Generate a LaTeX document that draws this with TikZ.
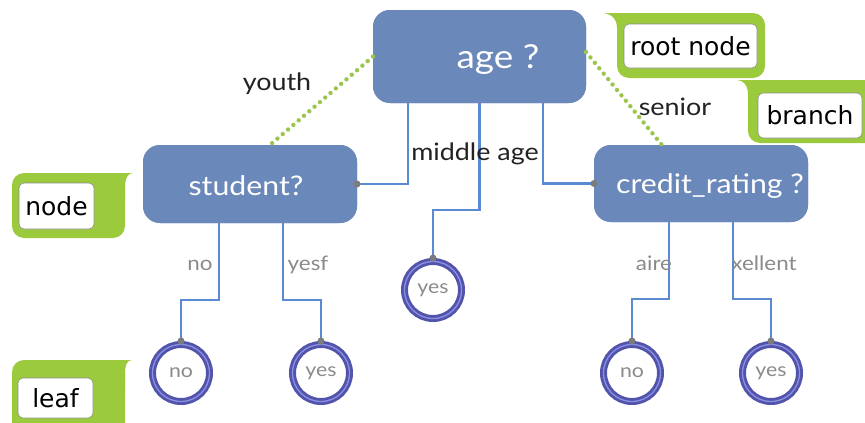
\documentclass[tikz,border=0pt]{standalone}
\usepackage{fontspec}
\setmainfont{Lato}[FakeStretch=1.12]
\newfontfamily\callfont{DejaVu Sans}
\usetikzlibrary{calc}

\definecolor{boxblue}{HTML}{6B88BA}
\definecolor{linkblue}{HTML}{5A8AD2}
\definecolor{ringdark}{HTML}{5254AC}
\definecolor{ringlight}{HTML}{8C90E2}
\definecolor{calloutgreen}{HTML}{9BCB3C}
\definecolor{vinegreen}{HTML}{9AC64C}
\definecolor{labelgrey}{HTML}{8A8A8A}
\definecolor{dotgrey}{HTML}{7C7C7C}
\definecolor{inkblack}{HTML}{222222}

\begin{document}
\begin{tikzpicture}[x=1pt,y=-1pt,
  decision/.style={rounded corners=17pt, fill=boxblue, inner sep=0pt, outer sep=0pt},
  leafnode/.style={circle, minimum size=57pt, inner sep=0pt, outer sep=3.5pt,
    draw=ringdark, line width=7pt, postaction={draw=ringlight, line width=1.3pt},
    text=labelgrey, font=\fontsize{19}{22}\selectfont},
  boxtext/.style={anchor=base, text=white, inner sep=0pt},
  lab/.style={anchor=base, text=inkblack, inner sep=0pt, font=\fontsize{24}{28}\selectfont},
  branchlab/.style={anchor=base, text=labelgrey, inner sep=0pt, font=\fontsize{20}{24}\selectfont},
  link/.style={draw=linkblue, line width=2.2pt},
  vine/.style={draw=vinegreen, line width=4.4pt, line cap=round, dash pattern=on 0pt off 7pt},
  joint/.style={fill=dotgrey},
  callbox/.style={fill=white, draw=black!45, line width=0.6pt, rounded corners=5pt,
    inner sep=0pt, text=black, font=\callfont\fontsize{25}{28}\selectfont},
]
\useasboundingbox (0,0) rectangle (865,423);

% decision boxes (shapes only; text set separately)
\node[decision, minimum width=213pt, minimum height=93pt] (root) at (479.5,56.5) {};
\node[decision, minimum width=214pt, minimum height=78pt] (student) at (250,184) {};
\node[decision, minimum width=214pt, minimum height=77pt] (credit) at (701,183.5) {};

% leaves
\node[leafnode] (l1) at (181,373) {no};
\node[leafnode] (l2) at (321,373) {yes};
\node[leafnode] (m)  at (433,290) {yes};
\node[leafnode] (l4) at (632,373) {no};
\node[leafnode] (l5) at (771,373) {yes};

% connectors
\draw[link] ([xshift=-71.5pt]root.south) |- (student.east);
\draw[link] (root.south) -- ++(0,107) -| (m.north);
\draw[link] ([xshift=63.5pt]root.south) |- (credit.west);
\draw[link] ([xshift=-31pt]student.south) -- ++(0,77) -| (l1.north);
\draw[link] ([xshift=33pt]student.south) -- ++(0,77) -| (l2.north);
\draw[link] ([xshift=-32pt]credit.south) -- ++(0,77) -| (l4.north);
\draw[link] ([xshift=32pt]credit.south) -- ++(0,77) -| (l5.north);

% redraw boxes over connector ends
\fill[boxblue, rounded corners=17pt] (root.north west) rectangle (root.south east);
\fill[boxblue, rounded corners=17pt] (student.north west) rectangle (student.south east);
\fill[boxblue, rounded corners=17pt] (credit.north west) rectangle (credit.south east);

% joints
\foreach \p in {student.east, credit.west, l1.north, l2.north, m.north, l4.north, l5.north}
  \fill[joint] (\p) circle (3.5pt);

% dotted branches
\draw[vine] (root.west) -- ([xshift=20pt]student.north);
\draw[vine] ([yshift=4.5pt]root.east) -- ([xshift=-39pt]credit.north);

% box texts
\node[boxtext, font=\fontsize{33}{36}\selectfont] (roottxt) at (498,68) {age ?};
\node[boxtext, font=\fontsize{27}{30}\selectfont] (studenttxt) at (246,195) {student?};
\node[boxtext, font=\fontsize{27}{30}\selectfont] (credittxt) at (710,193) {credit\_rating ?};

% edge labels
\node[lab] (youth) at (277,90) {youth};
\node[lab] (middle) at (475,160) {middle age};
\node[lab] (senior) at (675,115) {senior};
\node[branchlab] (bno) at (200,270) {no};
\node[branchlab] (byes) at (308,270) {yesf};
\node[branchlab] (bfair) at (654,270) {aire};
\node[branchlab] (bexc) at (764,270) {xellent};

% callouts: green speech shapes
\fill[calloutgreen, rounded corners=12pt] (617,13) rectangle (765,78);
\fill[calloutgreen] (602,13) -- (640,13) -- (640,40) -- (617,40) -- (617,28)
  .. controls (617,18) and (610,13) .. (602,13) -- cycle;
\fill[calloutgreen, rounded corners=12pt] (748,80) rectangle (885,143);
\fill[calloutgreen] (737,80) -- (775,80) -- (775,105) -- (748,105) -- (748,95)
  .. controls (748,85) and (743,80) .. (737,80) -- cycle;
\fill[calloutgreen, rounded corners=12pt] (12,173) rectangle (125,238);
\fill[calloutgreen] (133,173) -- (95,173) -- (95,200) -- (125,200) -- (125,188)
  .. controls (125,178) and (128,173) .. (133,173) -- cycle;
\fill[calloutgreen, rounded corners=12pt] (12,360) rectangle (125,440);
\fill[calloutgreen] (132,360) -- (95,360) -- (95,390) -- (125,390) -- (125,375)
  .. controls (125,365) and (127,360) .. (132,360) -- cycle;

\node[callbox, minimum width=133pt, minimum height=44pt] (croot) at (690.5,46) {root node};
\node[callbox, minimum width=104pt, minimum height=45pt] (cbranch) at (810,115.5) {branch};
\node[callbox, minimum width=75pt, minimum height=46pt] (cnode) at (56.5,206) {node};
\node[callbox, minimum width=75pt, minimum height=40pt] (cleaf) at (55.5,398) {leaf};
\end{tikzpicture}
\end{document}
